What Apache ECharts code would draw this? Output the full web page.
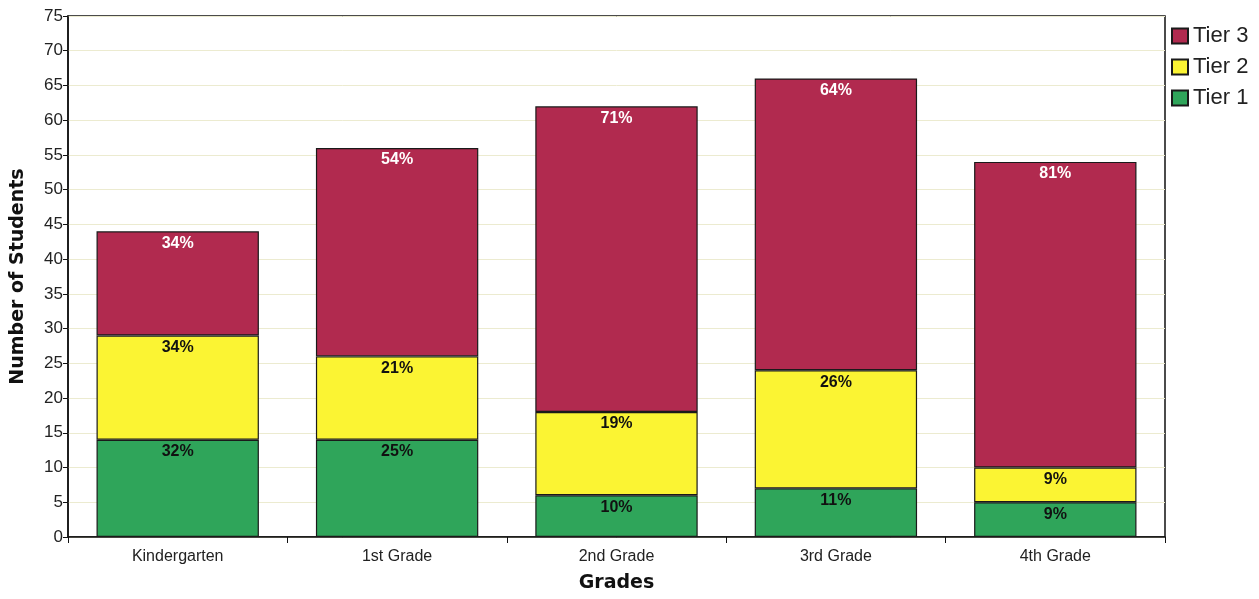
<!DOCTYPE html>
<html>
<head>
<meta charset="utf-8">
<script src="https://cdn.jsdelivr.net/npm/echarts@6/dist/echarts.min.js"></script>
<style>
  html, body { margin: 0; padding: 0; background: #fff; }
  #chart { width: 1259px; height: 599px; }
</style>
</head>
<body>
<div id="chart"></div>
<script>
// Students per grade, split by intervention tier
const grades = ['Kindergarten', '1st Grade', '2nd Grade', '3rd Grade', '4th Grade'];
const tier1 = [14, 14, 6, 7, 5];
const tier2 = [15, 12, 12, 17, 5];
const tier3 = [15, 30, 44, 42, 44];

const yTicks = { min: 0, max: 75, interval: 5 };

const totals = grades.map((_, i) => tier1[i] + tier2[i] + tier3[i]);
const pct = (arr) => (p) => Math.round(arr[p.dataIndex] / totals[p.dataIndex] * 100) + '%';

const FONT = '"Liberation Sans", Arial, sans-serif';
const TITLE_FONT = '"DejaVu Sans", Verdana, sans-serif';

function tierSeries(name, values, color, labelColor) {
  return {
    name: name,
    type: 'bar',
    stack: 'students',
    barCategoryGap: '26%',
    data: values,
    itemStyle: { color: color, borderColor: '#1a1a1a', borderWidth: 1.2 },
    label: {
      show: true,
      position: 'insideTop',
      distance: 4,
      formatter: pct(values),
      color: labelColor,
      fontFamily: FONT,
      fontWeight: 'bold',
      fontSize: 16
    }
  };
}

const chart = echarts.init(document.getElementById('chart'), null, { renderer: 'canvas' });
chart.setOption({
  animation: false,
  backgroundColor: '#ffffff',
  grid: {
    left: 68, right: 94, top: 16, bottom: 62,
    show: true, borderColor: '#111', borderWidth: 1.5, backgroundColor: 'transparent'
  },
  legend: {
    orient: 'vertical',
    left: 1166,
    top: 20,
    itemWidth: 16,
    itemHeight: 15,
    itemGap: 9,
    icon: 'rect',
    data: ['Tier 3', 'Tier 2', 'Tier 1'],
    textStyle: { fontFamily: FONT, fontSize: 22, color: '#222' }
  },
  xAxis: {
    type: 'category',
    data: grades,
    name: 'Grades',
    nameLocation: 'middle',
    nameGap: 37,
    nameTextStyle: { fontFamily: TITLE_FONT, fontWeight: 'bold', fontSize: 19, color: '#111' },
    axisLine: { lineStyle: { color: '#111', width: 1.5 } },
    axisTick: { show: true, alignWithLabel: false, length: 6, lineStyle: { color: '#111' } },
    axisLabel: { fontFamily: FONT, fontSize: 16, color: '#222', margin: 12 }
  },
  yAxis: {
    type: 'value',
    min: yTicks.min,
    max: yTicks.max,
    interval: yTicks.interval,
    name: 'Number of Students',
    nameLocation: 'middle',
    nameGap: 40,
    nameTextStyle: { fontFamily: TITLE_FONT, fontWeight: 'bold', fontSize: 19, color: '#111' },
    axisLine: { show: true, lineStyle: { color: '#111', width: 1.5 } },
    axisTick: { show: true, length: 5, lineStyle: { color: '#111' } },
    axisLabel: { fontFamily: FONT, fontSize: 17, color: '#222', margin: 5 },
    splitLine: { show: true, lineStyle: { color: '#ecebd0', width: 1 } }
  },
  series: [
    tierSeries('Tier 1', tier1, '#2fa55a', '#111'),
    tierSeries('Tier 2', tier2, '#fbf433', '#111'),
    tierSeries('Tier 3', tier3, '#b12a4f', '#ffffff')
  ]
});
</script>
</body>
</html>
